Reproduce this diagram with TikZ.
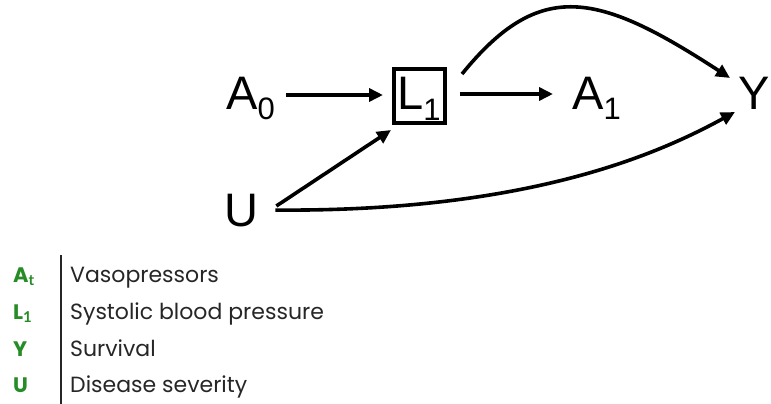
\documentclass[tikz,border=0pt]{standalone}
\usepackage{fontspec}
\setmainfont{Liberation Sans}
\newfontfamily\legfont{Poppins}
\newfontfamily\legsubfont{Lato}
\usetikzlibrary{arrows.meta,calc}
\definecolor{leggreen}{RGB}{38,140,38}
\newcommand\bigsub[1]{\raisebox{-10pt}{\fontsize{31}{31}\selectfont #1}}
\newcommand\legsub[1]{\raisebox{-3pt}{\legsubfont\bfseries\fontsize{15}{15}\selectfont #1}}
\begin{document}
\begin{tikzpicture}[x=1pt,y=-1pt,
  var/.style={inner sep=0pt,anchor=base west,font=\fontsize{47}{47}\selectfont},
  arr/.style={line width=3.6pt,-{Triangle[length=14pt,width=13pt]}},
  leglab/.style={inner sep=0pt,anchor=base west,text=leggreen,font=\legfont\bfseries\fontsize{21}{21}\selectfont},
  legtxt/.style={inner sep=0pt,anchor=base west,text=black!85,font=\legfont\fontsize{22}{22}\selectfont}]
\useasboundingbox (0,0) rectangle (771,404);
% diagram nodes
\node[var] (a0) at (226,109) {A\bigsub{0}};
\node[draw,line width=4pt,minimum width=51pt,minimum height=54pt,inner sep=0pt] (l1) at (419.5,96) {};
\node[var] (l1t) at (397,110) {L\bigsub{1}};
\node[var] (a1) at (572,109) {A\bigsub{1}};
\node[var] (y) at (738,109) {Y};
\node[var] (u) at (224,226) {U};
% connectors
\draw[arr] ($(a0.east |- 0,95)+(11,0)$) -- ($(l1.west |- 0,95)+(-9,0)$);
\draw[arr] ($(l1.east |- 0,94)+(13,0)$) -- ($(a1.west |- 0,94)+(-19,0)$);
\draw[arr] ($(u.base east)+(18,-20)$) -- ($(l1.south west)+(-1,5)$);
\draw[arr] ($(l1.north east)+(15,7)$) .. controls (540,-22) and (598,-8) .. ($(y.base west)+(-8,-31)$);
\draw[arr] ($(u.east)+(17,0)$) .. controls (530,212) and (660,153) .. ($(y.base west)+(-3,3)$);
% legend
\draw[line width=1.3pt,black!85] (61,255) -- (61,404);
\node[leglab] (lA) at (13,282) {A\legsub{t}};
\node[leglab] (lL) at (13,319) {L\legsub{1}};
\node[leglab] (lY) at (13,356) {Y};
\node[leglab] (lU) at (13,392) {U};
\node[legtxt] (tA) at (70,282) {Vasopressors};
\node[legtxt] (tL) at (70,319) {Systolic blood pressure};
\node[legtxt] (tY) at (70,356) {Survival};
\node[legtxt] (tU) at (70,392) {Disease severity};
\end{tikzpicture}
\end{document}
